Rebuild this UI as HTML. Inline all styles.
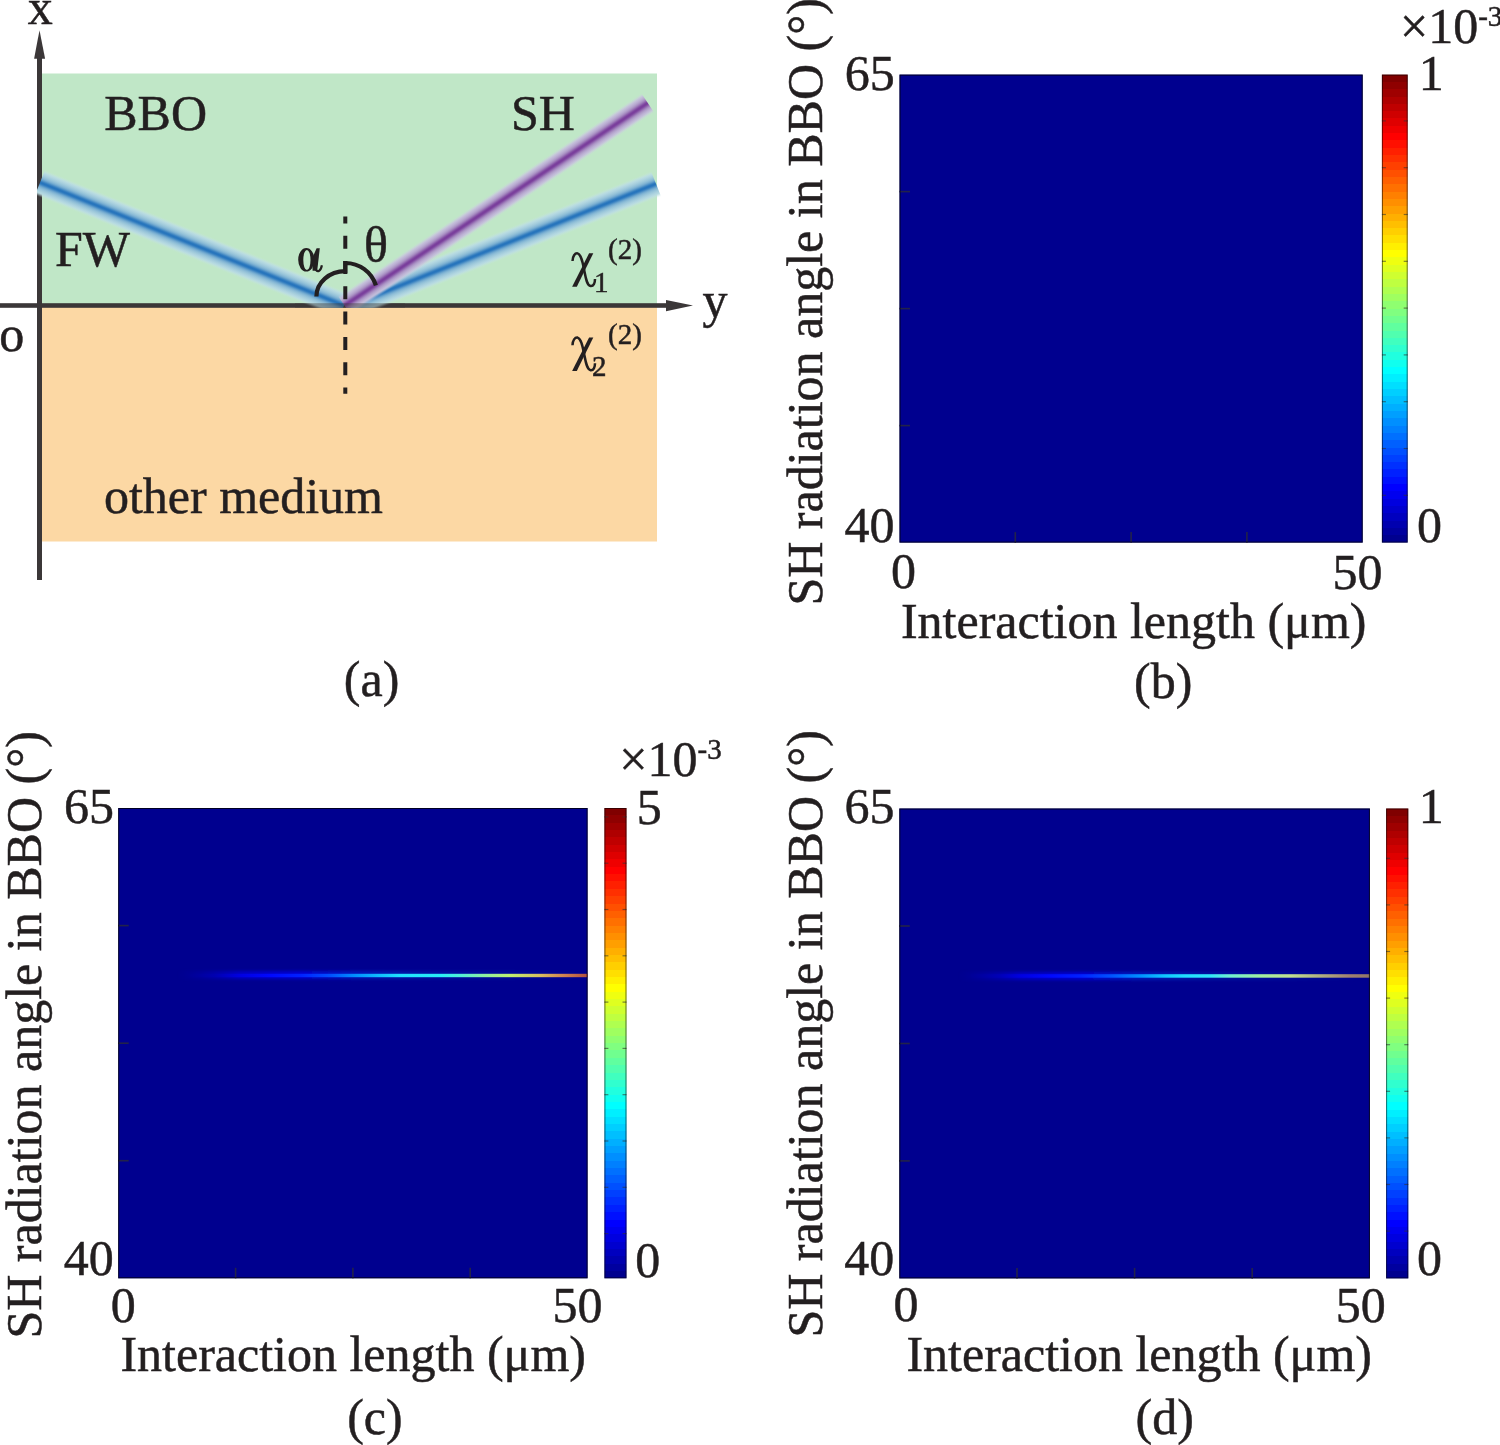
<!DOCTYPE html>
<html><head><meta charset="utf-8"><style>
html,body{margin:0;padding:0;background:#fff;}
svg{display:block;will-change:transform;}
text{font-family:'Liberation Serif',serif;fill:#231F20;stroke:#231F20;stroke-width:0.5px;}
</style></head><body>
<svg width="1500" height="1445" viewBox="0 0 1500 1445">
<defs>
<linearGradient id="jet" x1="0" y1="1" x2="0" y2="0"><stop offset="0.00000" stop-color="rgb(0, 0, 143)"/><stop offset="0.01562" stop-color="rgb(0, 0, 143)"/><stop offset="0.01562" stop-color="rgb(0, 0, 159)"/><stop offset="0.03125" stop-color="rgb(0, 0, 159)"/><stop offset="0.03125" stop-color="rgb(0, 0, 175)"/><stop offset="0.04688" stop-color="rgb(0, 0, 175)"/><stop offset="0.04688" stop-color="rgb(0, 0, 191)"/><stop offset="0.06250" stop-color="rgb(0, 0, 191)"/><stop offset="0.06250" stop-color="rgb(0, 0, 207)"/><stop offset="0.07812" stop-color="rgb(0, 0, 207)"/><stop offset="0.07812" stop-color="rgb(0, 0, 223)"/><stop offset="0.09375" stop-color="rgb(0, 0, 223)"/><stop offset="0.09375" stop-color="rgb(0, 0, 239)"/><stop offset="0.10938" stop-color="rgb(0, 0, 239)"/><stop offset="0.10938" stop-color="rgb(0, 0, 255)"/><stop offset="0.12500" stop-color="rgb(0, 0, 255)"/><stop offset="0.12500" stop-color="rgb(0, 16, 255)"/><stop offset="0.14062" stop-color="rgb(0, 16, 255)"/><stop offset="0.14062" stop-color="rgb(0, 32, 255)"/><stop offset="0.15625" stop-color="rgb(0, 32, 255)"/><stop offset="0.15625" stop-color="rgb(0, 48, 255)"/><stop offset="0.17188" stop-color="rgb(0, 48, 255)"/><stop offset="0.17188" stop-color="rgb(0, 64, 255)"/><stop offset="0.18750" stop-color="rgb(0, 64, 255)"/><stop offset="0.18750" stop-color="rgb(0, 80, 255)"/><stop offset="0.20312" stop-color="rgb(0, 80, 255)"/><stop offset="0.20312" stop-color="rgb(0, 96, 255)"/><stop offset="0.21875" stop-color="rgb(0, 96, 255)"/><stop offset="0.21875" stop-color="rgb(0, 112, 255)"/><stop offset="0.23438" stop-color="rgb(0, 112, 255)"/><stop offset="0.23438" stop-color="rgb(0, 128, 255)"/><stop offset="0.25000" stop-color="rgb(0, 128, 255)"/><stop offset="0.25000" stop-color="rgb(0, 143, 255)"/><stop offset="0.26562" stop-color="rgb(0, 143, 255)"/><stop offset="0.26562" stop-color="rgb(0, 159, 255)"/><stop offset="0.28125" stop-color="rgb(0, 159, 255)"/><stop offset="0.28125" stop-color="rgb(0, 175, 255)"/><stop offset="0.29688" stop-color="rgb(0, 175, 255)"/><stop offset="0.29688" stop-color="rgb(0, 191, 255)"/><stop offset="0.31250" stop-color="rgb(0, 191, 255)"/><stop offset="0.31250" stop-color="rgb(0, 207, 255)"/><stop offset="0.32812" stop-color="rgb(0, 207, 255)"/><stop offset="0.32812" stop-color="rgb(0, 223, 255)"/><stop offset="0.34375" stop-color="rgb(0, 223, 255)"/><stop offset="0.34375" stop-color="rgb(0, 239, 255)"/><stop offset="0.35938" stop-color="rgb(0, 239, 255)"/><stop offset="0.35938" stop-color="rgb(0, 255, 255)"/><stop offset="0.37500" stop-color="rgb(0, 255, 255)"/><stop offset="0.37500" stop-color="rgb(16, 255, 239)"/><stop offset="0.39062" stop-color="rgb(16, 255, 239)"/><stop offset="0.39062" stop-color="rgb(32, 255, 223)"/><stop offset="0.40625" stop-color="rgb(32, 255, 223)"/><stop offset="0.40625" stop-color="rgb(48, 255, 207)"/><stop offset="0.42188" stop-color="rgb(48, 255, 207)"/><stop offset="0.42188" stop-color="rgb(64, 255, 191)"/><stop offset="0.43750" stop-color="rgb(64, 255, 191)"/><stop offset="0.43750" stop-color="rgb(80, 255, 175)"/><stop offset="0.45312" stop-color="rgb(80, 255, 175)"/><stop offset="0.45312" stop-color="rgb(96, 255, 159)"/><stop offset="0.46875" stop-color="rgb(96, 255, 159)"/><stop offset="0.46875" stop-color="rgb(112, 255, 143)"/><stop offset="0.48438" stop-color="rgb(112, 255, 143)"/><stop offset="0.48438" stop-color="rgb(128, 255, 128)"/><stop offset="0.50000" stop-color="rgb(128, 255, 128)"/><stop offset="0.50000" stop-color="rgb(143, 255, 112)"/><stop offset="0.51562" stop-color="rgb(143, 255, 112)"/><stop offset="0.51562" stop-color="rgb(159, 255, 96)"/><stop offset="0.53125" stop-color="rgb(159, 255, 96)"/><stop offset="0.53125" stop-color="rgb(175, 255, 80)"/><stop offset="0.54688" stop-color="rgb(175, 255, 80)"/><stop offset="0.54688" stop-color="rgb(191, 255, 64)"/><stop offset="0.56250" stop-color="rgb(191, 255, 64)"/><stop offset="0.56250" stop-color="rgb(207, 255, 48)"/><stop offset="0.57812" stop-color="rgb(207, 255, 48)"/><stop offset="0.57812" stop-color="rgb(223, 255, 32)"/><stop offset="0.59375" stop-color="rgb(223, 255, 32)"/><stop offset="0.59375" stop-color="rgb(239, 255, 16)"/><stop offset="0.60938" stop-color="rgb(239, 255, 16)"/><stop offset="0.60938" stop-color="rgb(255, 255, 0)"/><stop offset="0.62500" stop-color="rgb(255, 255, 0)"/><stop offset="0.62500" stop-color="rgb(255, 239, 0)"/><stop offset="0.64062" stop-color="rgb(255, 239, 0)"/><stop offset="0.64062" stop-color="rgb(255, 223, 0)"/><stop offset="0.65625" stop-color="rgb(255, 223, 0)"/><stop offset="0.65625" stop-color="rgb(255, 207, 0)"/><stop offset="0.67188" stop-color="rgb(255, 207, 0)"/><stop offset="0.67188" stop-color="rgb(255, 191, 0)"/><stop offset="0.68750" stop-color="rgb(255, 191, 0)"/><stop offset="0.68750" stop-color="rgb(255, 175, 0)"/><stop offset="0.70312" stop-color="rgb(255, 175, 0)"/><stop offset="0.70312" stop-color="rgb(255, 159, 0)"/><stop offset="0.71875" stop-color="rgb(255, 159, 0)"/><stop offset="0.71875" stop-color="rgb(255, 143, 0)"/><stop offset="0.73438" stop-color="rgb(255, 143, 0)"/><stop offset="0.73438" stop-color="rgb(255, 128, 0)"/><stop offset="0.75000" stop-color="rgb(255, 128, 0)"/><stop offset="0.75000" stop-color="rgb(255, 112, 0)"/><stop offset="0.76562" stop-color="rgb(255, 112, 0)"/><stop offset="0.76562" stop-color="rgb(255, 96, 0)"/><stop offset="0.78125" stop-color="rgb(255, 96, 0)"/><stop offset="0.78125" stop-color="rgb(255, 80, 0)"/><stop offset="0.79688" stop-color="rgb(255, 80, 0)"/><stop offset="0.79688" stop-color="rgb(255, 64, 0)"/><stop offset="0.81250" stop-color="rgb(255, 64, 0)"/><stop offset="0.81250" stop-color="rgb(255, 48, 0)"/><stop offset="0.82812" stop-color="rgb(255, 48, 0)"/><stop offset="0.82812" stop-color="rgb(255, 32, 0)"/><stop offset="0.84375" stop-color="rgb(255, 32, 0)"/><stop offset="0.84375" stop-color="rgb(255, 16, 0)"/><stop offset="0.85938" stop-color="rgb(255, 16, 0)"/><stop offset="0.85938" stop-color="rgb(255, 0, 0)"/><stop offset="0.87500" stop-color="rgb(255, 0, 0)"/><stop offset="0.87500" stop-color="rgb(239, 0, 0)"/><stop offset="0.89062" stop-color="rgb(239, 0, 0)"/><stop offset="0.89062" stop-color="rgb(223, 0, 0)"/><stop offset="0.90625" stop-color="rgb(223, 0, 0)"/><stop offset="0.90625" stop-color="rgb(207, 0, 0)"/><stop offset="0.92188" stop-color="rgb(207, 0, 0)"/><stop offset="0.92188" stop-color="rgb(191, 0, 0)"/><stop offset="0.93750" stop-color="rgb(191, 0, 0)"/><stop offset="0.93750" stop-color="rgb(175, 0, 0)"/><stop offset="0.95312" stop-color="rgb(175, 0, 0)"/><stop offset="0.95312" stop-color="rgb(159, 0, 0)"/><stop offset="0.96875" stop-color="rgb(159, 0, 0)"/><stop offset="0.96875" stop-color="rgb(143, 0, 0)"/><stop offset="0.98438" stop-color="rgb(143, 0, 0)"/><stop offset="0.98438" stop-color="rgb(128, 0, 0)"/><stop offset="1.00000" stop-color="rgb(128, 0, 0)"/></linearGradient>
<filter id="blur" x="-20%" y="-50%" width="140%" height="200%"><feGaussianBlur stdDeviation="2.6"/></filter>
<filter id="blur2" x="-20%" y="-50%" width="140%" height="200%"><feGaussianBlur stdDeviation="4"/></filter>
<filter id="lblur" filterUnits="userSpaceOnUse" x="0" y="900" width="1500" height="150"><feGaussianBlur stdDeviation="1.2 1.5"/></filter>
</defs>

<rect x="42" y="73.5" width="615" height="232" fill="#C0E7C7"/>
<rect x="42" y="305.5" width="615" height="236" fill="#FCD8A4"/>
<rect x="37" y="58" width="5" height="522" fill="#3B3738"/>
<polygon points="34.1,58.8 39.5,30.2 45.1,58.8" fill="#3B3738"/>
<rect x="0" y="303.2" width="667" height="4.6" fill="#3B3738"/>
<polygon points="666,300 693,305.5 666,311.2" fill="#3B3738"/>
<defs>
<linearGradient id="gb" x1="0" y1="0" x2="0" y2="1"><stop offset="0.0" stop-color="#C5E4E5" stop-opacity="0.0"/><stop offset="0.0179" stop-color="#C4E3E5" stop-opacity="0.034"/><stop offset="0.0357" stop-color="#C3E2E5" stop-opacity="0.126"/><stop offset="0.0536" stop-color="#C1E1E4" stop-opacity="0.259"/><stop offset="0.0714" stop-color="#C0E0E4" stop-opacity="0.417"/><stop offset="0.0893" stop-color="#BEDFE3" stop-opacity="0.583"/><stop offset="0.1071" stop-color="#BCDEE3" stop-opacity="0.741"/><stop offset="0.125" stop-color="#BADCE2" stop-opacity="0.874"/><stop offset="0.1429" stop-color="#B7DAE2" stop-opacity="0.966"/><stop offset="0.1607" stop-color="#B4D8E1" stop-opacity="1.0"/><stop offset="0.1786" stop-color="#B1D6E0" stop-opacity="1.0"/><stop offset="0.1964" stop-color="#ADD3DF" stop-opacity="1.0"/><stop offset="0.2143" stop-color="#A9D0DE" stop-opacity="1.0"/><stop offset="0.2321" stop-color="#A5CDDD" stop-opacity="1.0"/><stop offset="0.25" stop-color="#A0CADC" stop-opacity="1.0"/><stop offset="0.2679" stop-color="#9BC7DA" stop-opacity="1.0"/><stop offset="0.2857" stop-color="#96C3D9" stop-opacity="1.0"/><stop offset="0.3036" stop-color="#90BFD8" stop-opacity="1.0"/><stop offset="0.3214" stop-color="#8ABAD6" stop-opacity="1.0"/><stop offset="0.3393" stop-color="#82B5D4" stop-opacity="1.0"/><stop offset="0.3571" stop-color="#7AAFD2" stop-opacity="1.0"/><stop offset="0.375" stop-color="#6FA8CF" stop-opacity="1.0"/><stop offset="0.3929" stop-color="#649FCC" stop-opacity="1.0"/><stop offset="0.4107" stop-color="#5696C9" stop-opacity="1.0"/><stop offset="0.4286" stop-color="#488CC5" stop-opacity="1.0"/><stop offset="0.4464" stop-color="#3B83C1" stop-opacity="1.0"/><stop offset="0.4643" stop-color="#307BBF" stop-opacity="1.0"/><stop offset="0.4821" stop-color="#2976BD" stop-opacity="1.0"/><stop offset="0.5" stop-color="#2674BC" stop-opacity="1.0"/><stop offset="0.5179" stop-color="#2976BD" stop-opacity="1.0"/><stop offset="0.5357" stop-color="#307BBF" stop-opacity="1.0"/><stop offset="0.5536" stop-color="#3B83C1" stop-opacity="1.0"/><stop offset="0.5714" stop-color="#488CC5" stop-opacity="1.0"/><stop offset="0.5893" stop-color="#5696C9" stop-opacity="1.0"/><stop offset="0.6071" stop-color="#649FCC" stop-opacity="1.0"/><stop offset="0.625" stop-color="#6FA8CF" stop-opacity="1.0"/><stop offset="0.6429" stop-color="#7AAFD2" stop-opacity="1.0"/><stop offset="0.6607" stop-color="#82B5D4" stop-opacity="1.0"/><stop offset="0.6786" stop-color="#8ABAD6" stop-opacity="1.0"/><stop offset="0.6964" stop-color="#90BFD8" stop-opacity="1.0"/><stop offset="0.7143" stop-color="#96C3D9" stop-opacity="1.0"/><stop offset="0.7321" stop-color="#9BC7DA" stop-opacity="1.0"/><stop offset="0.75" stop-color="#A0CADC" stop-opacity="1.0"/><stop offset="0.7679" stop-color="#A5CDDD" stop-opacity="1.0"/><stop offset="0.7857" stop-color="#A9D0DE" stop-opacity="1.0"/><stop offset="0.8036" stop-color="#ADD3DF" stop-opacity="1.0"/><stop offset="0.8214" stop-color="#B1D6E0" stop-opacity="1.0"/><stop offset="0.8393" stop-color="#B4D8E1" stop-opacity="1.0"/><stop offset="0.8571" stop-color="#B7DAE2" stop-opacity="0.966"/><stop offset="0.875" stop-color="#BADCE2" stop-opacity="0.874"/><stop offset="0.8929" stop-color="#BCDEE3" stop-opacity="0.741"/><stop offset="0.9107" stop-color="#BEDFE3" stop-opacity="0.583"/><stop offset="0.9286" stop-color="#C0E0E4" stop-opacity="0.417"/><stop offset="0.9464" stop-color="#C1E1E4" stop-opacity="0.259"/><stop offset="0.9643" stop-color="#C3E2E5" stop-opacity="0.126"/><stop offset="0.9821" stop-color="#C4E3E5" stop-opacity="0.034"/><stop offset="1.0" stop-color="#C5E4E5" stop-opacity="0.0"/></linearGradient>
<linearGradient id="gp" x1="0" y1="0" x2="0" y2="1"><stop offset="0.0" stop-color="#CED0E2" stop-opacity="0.0"/><stop offset="0.0208" stop-color="#CDCFE2" stop-opacity="0.034"/><stop offset="0.0417" stop-color="#CCCEE1" stop-opacity="0.126"/><stop offset="0.0625" stop-color="#CBCCE0" stop-opacity="0.259"/><stop offset="0.0833" stop-color="#CACADF" stop-opacity="0.417"/><stop offset="0.1042" stop-color="#C9C8DE" stop-opacity="0.583"/><stop offset="0.125" stop-color="#C7C5DD" stop-opacity="0.741"/><stop offset="0.1458" stop-color="#C6C2DB" stop-opacity="0.874"/><stop offset="0.1667" stop-color="#C4BEDA" stop-opacity="0.966"/><stop offset="0.1875" stop-color="#C1BAD8" stop-opacity="1.0"/><stop offset="0.2083" stop-color="#BFB6D6" stop-opacity="1.0"/><stop offset="0.2292" stop-color="#BCB1D3" stop-opacity="1.0"/><stop offset="0.25" stop-color="#B9ABD1" stop-opacity="1.0"/><stop offset="0.2708" stop-color="#B5A5CE" stop-opacity="1.0"/><stop offset="0.2917" stop-color="#B19FCA" stop-opacity="1.0"/><stop offset="0.3125" stop-color="#AD97C7" stop-opacity="1.0"/><stop offset="0.3333" stop-color="#A88EC2" stop-opacity="1.0"/><stop offset="0.3542" stop-color="#A284BD" stop-opacity="1.0"/><stop offset="0.375" stop-color="#9B78B8" stop-opacity="1.0"/><stop offset="0.3958" stop-color="#946BB2" stop-opacity="1.0"/><stop offset="0.4167" stop-color="#8C5EAB" stop-opacity="1.0"/><stop offset="0.4375" stop-color="#8552A5" stop-opacity="1.0"/><stop offset="0.4583" stop-color="#7F47A0" stop-opacity="1.0"/><stop offset="0.4792" stop-color="#7B409D" stop-opacity="1.0"/><stop offset="0.5" stop-color="#7A3E9C" stop-opacity="1.0"/><stop offset="0.5208" stop-color="#7B409D" stop-opacity="1.0"/><stop offset="0.5417" stop-color="#7F47A0" stop-opacity="1.0"/><stop offset="0.5625" stop-color="#8552A5" stop-opacity="1.0"/><stop offset="0.5833" stop-color="#8C5EAB" stop-opacity="1.0"/><stop offset="0.6042" stop-color="#946BB2" stop-opacity="1.0"/><stop offset="0.625" stop-color="#9B78B8" stop-opacity="1.0"/><stop offset="0.6458" stop-color="#A284BD" stop-opacity="1.0"/><stop offset="0.6667" stop-color="#A88EC2" stop-opacity="1.0"/><stop offset="0.6875" stop-color="#AD97C7" stop-opacity="1.0"/><stop offset="0.7083" stop-color="#B19FCA" stop-opacity="1.0"/><stop offset="0.7292" stop-color="#B5A5CE" stop-opacity="1.0"/><stop offset="0.75" stop-color="#B9ABD1" stop-opacity="1.0"/><stop offset="0.7708" stop-color="#BCB1D3" stop-opacity="1.0"/><stop offset="0.7917" stop-color="#BFB6D6" stop-opacity="1.0"/><stop offset="0.8125" stop-color="#C1BAD8" stop-opacity="1.0"/><stop offset="0.8333" stop-color="#C4BEDA" stop-opacity="0.966"/><stop offset="0.8542" stop-color="#C6C2DB" stop-opacity="0.874"/><stop offset="0.875" stop-color="#C7C5DD" stop-opacity="0.741"/><stop offset="0.8958" stop-color="#C9C8DE" stop-opacity="0.583"/><stop offset="0.9167" stop-color="#CACADF" stop-opacity="0.417"/><stop offset="0.9375" stop-color="#CBCCE0" stop-opacity="0.259"/><stop offset="0.9583" stop-color="#CCCEE1" stop-opacity="0.126"/><stop offset="0.9792" stop-color="#CDCFE2" stop-opacity="0.034"/><stop offset="1.0" stop-color="#CED0E2" stop-opacity="0.0"/></linearGradient>
<clipPath id="bclip"><rect x="37" y="60" width="640" height="247.8"/></clipPath>
</defs>
<g clip-path="url(#bclip)">
<g transform="translate(40,182.5) rotate(22.029)"><rect x="0" y="-14.0" width="327.94" height="28" fill="url(#gb)"/></g>
<g transform="translate(350,305.5) rotate(-21.688)"><rect x="0" y="-14.0" width="329.31" height="28" fill="url(#gb)"/></g>
<g transform="translate(344.5,305.5) rotate(-33.742)"><rect x="0" y="-12.0" width="364.74" height="24" fill="url(#gp)"/></g>
</g>
<rect x="295" y="303.2" width="110" height="4.6" fill="#3B3738" opacity="0.45"/>
<line x1="345.3" y1="216.6" x2="345.3" y2="393.8" stroke="#231F20" stroke-width="4" stroke-dasharray="13 12.3" stroke-dashoffset="6.2"/>
<path d="M316.4,296.6 A29,25.4 0 0 1 345.3,271.2 L345.3,263 A32,32 0 0 1 375.9,285.4" fill="none" stroke="#231F20" stroke-width="4.2"/>
<text x="27.7" y="24.2" font-size="50" >x</text>
<text x="104.2" y="130.1" font-size="50" >BBO</text>
<text x="511" y="130" font-size="50" >SH</text>
<text x="55" y="266" font-size="50" >FW</text>
<text x="-0.7" y="351.3" font-size="50" >o</text>
<g fill="#231F20"><path fill-rule="evenodd" d="M298.2,259.8 A8.1,11.8 0 1 0 314.4,259.8 A8.1,11.8 0 1 0 298.2,259.8 Z M303.3,260 A3.6,10.1 0 1 0 310.5,260 A3.6,10.1 0 1 0 303.3,260 Z"/><polygon points="316.6,248.2 319.8,248.2 317.2,270.8 312.6,270.8 312.4,262 313.4,255.5"/><path d="M315.8,269.6 C317.2,272.2 320.6,272 321.9,265.3" fill="none" stroke="#231F20" stroke-width="2.2"/></g>
<text x="363.9" y="262" font-size="50" >θ</text>
<text x="702.5" y="317" font-size="50" >y</text>
<g id="chi"><polygon points="589.1,253.2 593.3,253.2 576.8,286.8 572.1,286.8" fill="#231F20"/><path d="M572.5,261 C572.6,256 575,253 577.6,253.4 C581,254.2 582.6,262 584,269 C585.4,276 586.6,285.6 590.6,286 C593.6,286.3 595,283 595,279" fill="none" stroke="#231F20" stroke-width="2.5"/></g>
<text x="594" y="292.3" font-size="29" >1</text>
<text x="608" y="259" font-size="29" >(2)</text>
<use href="#chi" transform="translate(0,84.2)"/>
<text x="592" y="376.4" font-size="29" >2</text>
<text x="608" y="343.6" font-size="29" >(2)</text>
<text x="103.9" y="513.4" font-size="50" >other medium</text>
<text x="343.8" y="696" font-size="50" >(a)</text>
<rect x="899.5" y="74.6" width="463.20000000000005" height="468.0" fill="#00008F"/><line x1="899.5" y1="191.6" x2="910.0" y2="191.6" stroke="#22224A" stroke-width="1.6"/><line x1="1015.3" y1="542.6" x2="1015.3" y2="532.1" stroke="#22224A" stroke-width="1.6"/><line x1="899.5" y1="308.6" x2="910.0" y2="308.6" stroke="#22224A" stroke-width="1.6"/><line x1="1131.1" y1="542.6" x2="1131.1" y2="532.1" stroke="#22224A" stroke-width="1.6"/><line x1="899.5" y1="425.6" x2="910.0" y2="425.6" stroke="#22224A" stroke-width="1.6"/><line x1="1246.9" y1="542.6" x2="1246.9" y2="532.1" stroke="#22224A" stroke-width="1.6"/><rect x="1381.9" y="74.6" width="25.799999999999955" height="468.0" fill="url(#jet)"/><line x1="1381.9" y1="120.9" x2="1385.9" y2="120.9" stroke="#333" stroke-width="1.2" opacity="0.6"/><line x1="1403.7" y1="120.9" x2="1407.7" y2="120.9" stroke="#333" stroke-width="1.2" opacity="0.6"/><line x1="1381.9" y1="167.7" x2="1385.9" y2="167.7" stroke="#333" stroke-width="1.2" opacity="0.6"/><line x1="1403.7" y1="167.7" x2="1407.7" y2="167.7" stroke="#333" stroke-width="1.2" opacity="0.6"/><line x1="1381.9" y1="214.5" x2="1385.9" y2="214.5" stroke="#333" stroke-width="1.2" opacity="0.6"/><line x1="1403.7" y1="214.5" x2="1407.7" y2="214.5" stroke="#333" stroke-width="1.2" opacity="0.6"/><line x1="1381.9" y1="261.3" x2="1385.9" y2="261.3" stroke="#333" stroke-width="1.2" opacity="0.6"/><line x1="1403.7" y1="261.3" x2="1407.7" y2="261.3" stroke="#333" stroke-width="1.2" opacity="0.6"/><line x1="1381.9" y1="308.1" x2="1385.9" y2="308.1" stroke="#333" stroke-width="1.2" opacity="0.6"/><line x1="1403.7" y1="308.1" x2="1407.7" y2="308.1" stroke="#333" stroke-width="1.2" opacity="0.6"/><line x1="1381.9" y1="354.9" x2="1385.9" y2="354.9" stroke="#333" stroke-width="1.2" opacity="0.6"/><line x1="1403.7" y1="354.9" x2="1407.7" y2="354.9" stroke="#333" stroke-width="1.2" opacity="0.6"/><line x1="1381.9" y1="401.7" x2="1385.9" y2="401.7" stroke="#333" stroke-width="1.2" opacity="0.6"/><line x1="1403.7" y1="401.7" x2="1407.7" y2="401.7" stroke="#333" stroke-width="1.2" opacity="0.6"/><line x1="1381.9" y1="448.5" x2="1385.9" y2="448.5" stroke="#333" stroke-width="1.2" opacity="0.6"/><line x1="1403.7" y1="448.5" x2="1407.7" y2="448.5" stroke="#333" stroke-width="1.2" opacity="0.6"/><line x1="1381.9" y1="495.3" x2="1385.9" y2="495.3" stroke="#333" stroke-width="1.2" opacity="0.6"/><line x1="1403.7" y1="495.3" x2="1407.7" y2="495.3" stroke="#333" stroke-width="1.2" opacity="0.6"/><rect x="900.0" y="75.1" width="462.20000000000005" height="467.0" fill="none" stroke="#000" stroke-width="1" opacity="0.75"/><rect x="1382.4" y="75.1" width="24.799999999999955" height="467.0" fill="none" stroke="#000" stroke-width="1" opacity="0.55"/><text x="844.8" y="90" font-size="50" >65</text><text x="844.6" y="542.3" font-size="50" >40</text><text x="890.9" y="588.4" font-size="50" >0</text><text x="1332.5" y="588.5" font-size="50" >50</text><text x="900.9" y="637.8" font-size="50" >Interaction length (μm)</text><text x="1134" y="697.5" font-size="50" >(b)</text><text x="1418.7" y="89.8" font-size="50" >1</text><text x="1416.9" y="542" font-size="50" >0</text><text x="1400" y="43.2" font-size="50">×10<tspan font-size="29" dy="-17">-3</tspan></text><text transform="translate(821.8,605.6) rotate(-90)" font-size="50">SH radiation angle in BBO (°)</text>
<rect x="118.2" y="808" width="469.40000000000003" height="470.29999999999995" fill="#00008F"/><defs><linearGradient id="lc" gradientUnits="userSpaceOnUse" x1="178" y1="0" x2="587.6" y2="0"><stop offset="0" stop-color="#000090" stop-opacity="0"/><stop offset="0.09" stop-color="#0000B0"/><stop offset="0.15" stop-color="#0000E0"/><stop offset="0.225" stop-color="#0008FF"/><stop offset="0.298" stop-color="#0020FF"/><stop offset="0.371" stop-color="#0050FF"/><stop offset="0.432" stop-color="#0090FF"/><stop offset="0.493" stop-color="#10C0FF"/><stop offset="0.542" stop-color="#20E0FF"/><stop offset="0.64" stop-color="#28EEF8"/><stop offset="0.689" stop-color="#50F0D8"/><stop offset="0.75" stop-color="#90F0A0"/><stop offset="0.81" stop-color="#C0F070"/><stop offset="0.884" stop-color="#D8C060"/><stop offset="0.945" stop-color="#D08050"/><stop offset="1" stop-color="#B05040"/></linearGradient><linearGradient id="lcg" gradientUnits="userSpaceOnUse" x1="178" y1="0" x2="587.6" y2="0"><stop offset="0" stop-color="#0000C0" stop-opacity="0"/><stop offset="0.15" stop-color="#0000E8" stop-opacity="0.6"/><stop offset="0.3" stop-color="#0000FF" stop-opacity="0.6"/><stop offset="0.45" stop-color="#0040FF" stop-opacity="0.35"/><stop offset="0.6" stop-color="#0080FF" stop-opacity="0.15"/><stop offset="1" stop-color="#0080FF" stop-opacity="0"/></linearGradient></defs><rect x="178" y="971" width="409.6" height="8" fill="url(#lcg)" filter="url(#lblur)"/><rect x="190" y="973.8" width="397.6" height="3.4" fill="url(#lc)"/><line x1="118.2" y1="925.6" x2="128.7" y2="925.6" stroke="#22224A" stroke-width="1.6"/><line x1="235.6" y1="1278.3" x2="235.6" y2="1267.8" stroke="#22224A" stroke-width="1.6"/><line x1="118.2" y1="1043.2" x2="128.7" y2="1043.2" stroke="#22224A" stroke-width="1.6"/><line x1="352.9" y1="1278.3" x2="352.9" y2="1267.8" stroke="#22224A" stroke-width="1.6"/><line x1="118.2" y1="1160.7" x2="128.7" y2="1160.7" stroke="#22224A" stroke-width="1.6"/><line x1="470.2" y1="1278.3" x2="470.2" y2="1267.8" stroke="#22224A" stroke-width="1.6"/><rect x="604.4" y="808" width="22.100000000000023" height="470.29999999999995" fill="url(#jet)"/><line x1="604.4" y1="816.9" x2="608.4" y2="816.9" stroke="#333" stroke-width="1.2" opacity="0.6"/><line x1="622.5" y1="816.9" x2="626.5" y2="816.9" stroke="#333" stroke-width="1.2" opacity="0.6"/><line x1="604.4" y1="863.2" x2="608.4" y2="863.2" stroke="#333" stroke-width="1.2" opacity="0.6"/><line x1="622.5" y1="863.2" x2="626.5" y2="863.2" stroke="#333" stroke-width="1.2" opacity="0.6"/><line x1="604.4" y1="909.5" x2="608.4" y2="909.5" stroke="#333" stroke-width="1.2" opacity="0.6"/><line x1="622.5" y1="909.5" x2="626.5" y2="909.5" stroke="#333" stroke-width="1.2" opacity="0.6"/><line x1="604.4" y1="955.8" x2="608.4" y2="955.8" stroke="#333" stroke-width="1.2" opacity="0.6"/><line x1="622.5" y1="955.8" x2="626.5" y2="955.8" stroke="#333" stroke-width="1.2" opacity="0.6"/><line x1="604.4" y1="1002.1" x2="608.4" y2="1002.1" stroke="#333" stroke-width="1.2" opacity="0.6"/><line x1="622.5" y1="1002.1" x2="626.5" y2="1002.1" stroke="#333" stroke-width="1.2" opacity="0.6"/><line x1="604.4" y1="1048.4" x2="608.4" y2="1048.4" stroke="#333" stroke-width="1.2" opacity="0.6"/><line x1="622.5" y1="1048.4" x2="626.5" y2="1048.4" stroke="#333" stroke-width="1.2" opacity="0.6"/><line x1="604.4" y1="1094.7" x2="608.4" y2="1094.7" stroke="#333" stroke-width="1.2" opacity="0.6"/><line x1="622.5" y1="1094.7" x2="626.5" y2="1094.7" stroke="#333" stroke-width="1.2" opacity="0.6"/><line x1="604.4" y1="1141.0" x2="608.4" y2="1141.0" stroke="#333" stroke-width="1.2" opacity="0.6"/><line x1="622.5" y1="1141.0" x2="626.5" y2="1141.0" stroke="#333" stroke-width="1.2" opacity="0.6"/><line x1="604.4" y1="1187.3" x2="608.4" y2="1187.3" stroke="#333" stroke-width="1.2" opacity="0.6"/><line x1="622.5" y1="1187.3" x2="626.5" y2="1187.3" stroke="#333" stroke-width="1.2" opacity="0.6"/><line x1="604.4" y1="1233.6" x2="608.4" y2="1233.6" stroke="#333" stroke-width="1.2" opacity="0.6"/><line x1="622.5" y1="1233.6" x2="626.5" y2="1233.6" stroke="#333" stroke-width="1.2" opacity="0.6"/><rect x="118.7" y="808.5" width="468.40000000000003" height="469.29999999999995" fill="none" stroke="#000" stroke-width="1" opacity="0.75"/><rect x="604.9" y="808.5" width="21.100000000000023" height="469.29999999999995" fill="none" stroke="#000" stroke-width="1" opacity="0.55"/><text x="63.9" y="823.3" font-size="50" >65</text><text x="63.8" y="1275.2" font-size="50" >40</text><text x="110.8" y="1321.8" font-size="50" >0</text><text x="552.6" y="1321.5" font-size="50" >50</text><text x="120.4" y="1371.2" font-size="50" >Interaction length (μm)</text><text x="347.2" y="1434.4" font-size="50" >(c)</text><text x="636.7" y="823.5" font-size="50" >5</text><text x="635.2" y="1276.6" font-size="50" >0</text><text x="619.3" y="776" font-size="50">×10<tspan font-size="29" dy="-17">-3</tspan></text><text transform="translate(41.1,1338.6) rotate(-90)" font-size="50">SH radiation angle in BBO (°)</text>
<rect x="899.3" y="808.5" width="470.60000000000014" height="469.9000000000001" fill="#00008F"/><defs><linearGradient id="ld" gradientUnits="userSpaceOnUse" x1="959" y1="0" x2="1369.9" y2="0"><stop offset="0" stop-color="#000090" stop-opacity="0"/><stop offset="0.1" stop-color="#0000B8"/><stop offset="0.148" stop-color="#0000E0"/><stop offset="0.221" stop-color="#0008FF"/><stop offset="0.294" stop-color="#0020FF"/><stop offset="0.367" stop-color="#0050FF"/><stop offset="0.44" stop-color="#0090FF"/><stop offset="0.501" stop-color="#10C8FF"/><stop offset="0.55" stop-color="#20E0FF"/><stop offset="0.611" stop-color="#30E8F8"/><stop offset="0.66" stop-color="#70F0D0"/><stop offset="0.733" stop-color="#A0F0A0"/><stop offset="0.806" stop-color="#C0E090"/><stop offset="0.879" stop-color="#B0B080"/><stop offset="0.952" stop-color="#A08070"/><stop offset="1" stop-color="#907868"/></linearGradient><linearGradient id="ldg" gradientUnits="userSpaceOnUse" x1="959" y1="0" x2="1369.9" y2="0"><stop offset="0" stop-color="#0000C0" stop-opacity="0"/><stop offset="0.15" stop-color="#0000E8" stop-opacity="0.6"/><stop offset="0.3" stop-color="#0000FF" stop-opacity="0.6"/><stop offset="0.45" stop-color="#0040FF" stop-opacity="0.35"/><stop offset="0.6" stop-color="#0080FF" stop-opacity="0.15"/><stop offset="1" stop-color="#0080FF" stop-opacity="0"/></linearGradient></defs><rect x="959" y="972" width="410.9" height="8" fill="url(#ldg)" filter="url(#lblur)"/><rect x="971" y="974.2" width="398.9" height="3.5" fill="url(#ld)"/><line x1="899.3" y1="926.0" x2="909.8" y2="926.0" stroke="#22224A" stroke-width="1.6"/><line x1="1017.0" y1="1278.4" x2="1017.0" y2="1267.9" stroke="#22224A" stroke-width="1.6"/><line x1="899.3" y1="1043.5" x2="909.8" y2="1043.5" stroke="#22224A" stroke-width="1.6"/><line x1="1134.6" y1="1278.4" x2="1134.6" y2="1267.9" stroke="#22224A" stroke-width="1.6"/><line x1="899.3" y1="1160.9" x2="909.8" y2="1160.9" stroke="#22224A" stroke-width="1.6"/><line x1="1252.2" y1="1278.4" x2="1252.2" y2="1267.9" stroke="#22224A" stroke-width="1.6"/><rect x="1386.1" y="808.5" width="22.200000000000045" height="469.9000000000001" fill="url(#jet)"/><line x1="1386.1" y1="858.3" x2="1390.1" y2="858.3" stroke="#333" stroke-width="1.2" opacity="0.6"/><line x1="1404.3" y1="858.3" x2="1408.3" y2="858.3" stroke="#333" stroke-width="1.2" opacity="0.6"/><line x1="1386.1" y1="904.9" x2="1390.1" y2="904.9" stroke="#333" stroke-width="1.2" opacity="0.6"/><line x1="1404.3" y1="904.9" x2="1408.3" y2="904.9" stroke="#333" stroke-width="1.2" opacity="0.6"/><line x1="1386.1" y1="951.5" x2="1390.1" y2="951.5" stroke="#333" stroke-width="1.2" opacity="0.6"/><line x1="1404.3" y1="951.5" x2="1408.3" y2="951.5" stroke="#333" stroke-width="1.2" opacity="0.6"/><line x1="1386.1" y1="998.1" x2="1390.1" y2="998.1" stroke="#333" stroke-width="1.2" opacity="0.6"/><line x1="1404.3" y1="998.1" x2="1408.3" y2="998.1" stroke="#333" stroke-width="1.2" opacity="0.6"/><line x1="1386.1" y1="1044.7" x2="1390.1" y2="1044.7" stroke="#333" stroke-width="1.2" opacity="0.6"/><line x1="1404.3" y1="1044.7" x2="1408.3" y2="1044.7" stroke="#333" stroke-width="1.2" opacity="0.6"/><line x1="1386.1" y1="1091.3" x2="1390.1" y2="1091.3" stroke="#333" stroke-width="1.2" opacity="0.6"/><line x1="1404.3" y1="1091.3" x2="1408.3" y2="1091.3" stroke="#333" stroke-width="1.2" opacity="0.6"/><line x1="1386.1" y1="1137.9" x2="1390.1" y2="1137.9" stroke="#333" stroke-width="1.2" opacity="0.6"/><line x1="1404.3" y1="1137.9" x2="1408.3" y2="1137.9" stroke="#333" stroke-width="1.2" opacity="0.6"/><line x1="1386.1" y1="1184.5" x2="1390.1" y2="1184.5" stroke="#333" stroke-width="1.2" opacity="0.6"/><line x1="1404.3" y1="1184.5" x2="1408.3" y2="1184.5" stroke="#333" stroke-width="1.2" opacity="0.6"/><line x1="1386.1" y1="1231.1" x2="1390.1" y2="1231.1" stroke="#333" stroke-width="1.2" opacity="0.6"/><line x1="1404.3" y1="1231.1" x2="1408.3" y2="1231.1" stroke="#333" stroke-width="1.2" opacity="0.6"/><rect x="899.8" y="809.0" width="469.60000000000014" height="468.9000000000001" fill="none" stroke="#000" stroke-width="1" opacity="0.75"/><rect x="1386.6" y="809.0" width="21.200000000000045" height="468.9000000000001" fill="none" stroke="#000" stroke-width="1" opacity="0.55"/><text x="844.6" y="823.3" font-size="50" >65</text><text x="844.2" y="1275.2" font-size="50" >40</text><text x="893.6" y="1321.2" font-size="50" >0</text><text x="1335.7" y="1321.5" font-size="50" >50</text><text x="906.4" y="1371.2" font-size="50" >Interaction length (μm)</text><text x="1135.6" y="1434.4" font-size="50" >(d)</text><text x="1418.7" y="823" font-size="50" >1</text><text x="1416.9" y="1275.3" font-size="50" >0</text><text transform="translate(821.8,1337.6) rotate(-90)" font-size="50">SH radiation angle in BBO (°)</text>
</svg></body></html>
